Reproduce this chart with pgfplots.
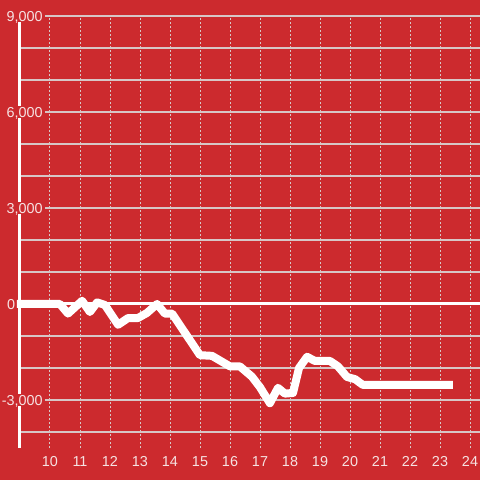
\documentclass[border=0pt]{standalone}
\usepackage{pgfplots}
\pgfplotsset{compat=1.18}
\usepackage{fontspec}
\setmainfont{Liberation Sans}
\setsansfont{Liberation Sans}
\definecolor{bgred}{RGB}{204,42,46}
\definecolor{gridcol}{RGB}{215,198,198}
\definecolor{labcol}{RGB}{246,226,226}
\begin{document}
\begin{tikzpicture}
\fill[bgred] (-15pt,-24pt) rectangle (345pt,336pt);
\begin{axis}[
  scale only axis, width=345pt, height=324pt,
  xmin=9, xmax=24.333, ymin=-4500, ymax=9000,
  clip=false,
  axis lines=left,
  axis line style={-},
  x axis line style={draw=none},
  y axis line style={draw=white, line width=2.25pt},
  /pgf/number format/assume math mode=true,
  xtick={10,...,24},
  xticklabels={10,11,12,13,14,15,16,17,18,19,20,21,22,23,24},
  ytick={-3000,3000,6000,9000},
  yticklabels={-3{,}000,3{,}000,6{,}000,9{,}000},
  minor ytick={-4000,-2000,-1000,1000,2000,4000,5000,7000,8000},
  major tick length=0pt, minor tick length=0pt,
  xmajorgrids, ymajorgrids, yminorgrids,
  major x grid style={gridcol, line width=0.75pt, dash pattern=on 1.5pt off 1.5pt},
  major y grid style={gridcol, line width=0.9pt},
  minor y grid style={gridcol, line width=0.9pt},
  xticklabel style={text=labcol, font=\sffamily\fontsize{10.8}{12}\selectfont, yshift=-3pt},
  yticklabel style={text=labcol, font=\sffamily\fontsize{10.8}{12}\selectfont, anchor=east,
    fill=bgred, inner xsep=1.5pt, inner ysep=1pt, text height=7.6pt, text depth=0pt, xshift=18.75pt},
]
\addplot[white, line width=2.25pt] coordinates {(8.9,0) (24.333,0)};
\addplot[white, line width=6pt, line join=round] coordinates {
(8.9,0) (10.33,0) (10.6,-300) (11.07,100) (11.33,-250) (11.57,50) (11.83,-30)
(12.27,-650) (12.6,-440) (12.93,-440) (13.23,-280) (13.57,0) (13.83,-300) (14.07,-300)
(15.0,-1600) (15.4,-1620) (16.0,-1950) (16.33,-1950) (16.73,-2270) (17.0,-2600)
(17.33,-3100) (17.6,-2620) (17.83,-2800) (18.1,-2780) (18.3,-2000) (18.57,-1650)
(18.83,-1780) (19.33,-1780) (19.6,-1950) (19.9,-2280) (20.17,-2350) (20.43,-2530)
(20.7,-2530) (23.43,-2530)
};
\node[anchor=east, inner sep=0pt, text=labcol, font=\sffamily\fontsize{10.8}{12}\selectfont, text height=7.6pt, text depth=0pt] at (axis cs:9,0) [xshift=-3.5pt] {0};
\end{axis}
\pgfresetboundingbox
\path[use as bounding box] (-15pt,-24pt) rectangle (345pt,336pt);
\end{tikzpicture}
\end{document}
